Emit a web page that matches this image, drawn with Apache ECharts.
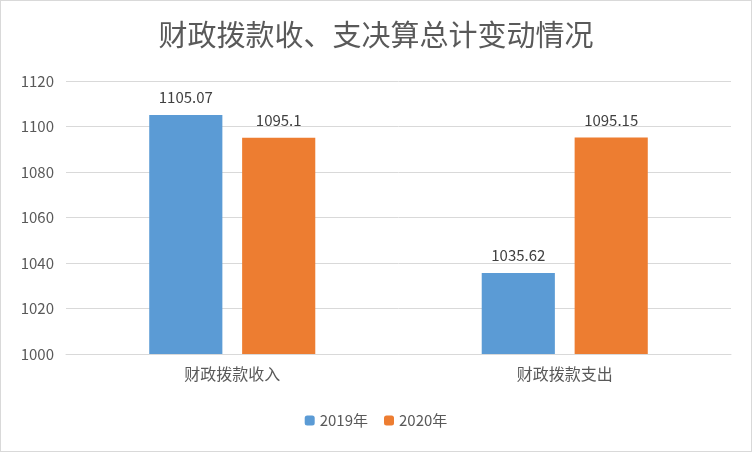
<!DOCTYPE html>
<html><head><meta charset="utf-8">
<script src="https://cdn.jsdelivr.net/npm/echarts@6/dist/echarts.min.js"></script>
<style>html,body{margin:0;padding:0;background:#fff}#c{width:750px;height:450px;border:1px solid #d9d9d9}</style>
</head><body><div id="c"></div>
<script>
const categories = ['财政拨款收入', '财政拨款支出'];
const series2019 = [1105.07, 1035.62];
const series2020 = [1095.1, 1095.15];
const yTicks = { min: 1000, max: 1120, interval: 20 };
const chart = echarts.init(document.getElementById('c'));
const font = '"Noto Sans CJK SC", sans-serif';
chart.setOption({
  animation: false,
  title: { text: '财政拨款收、支决算总计变动情况', left: 'center', top: 14,
    textStyle: { fontFamily: font, fontSize: 29, fontWeight: 'normal', color: '#595959' } },
  grid: { left: 65, right: 20, top: 80, bottom: 97 },
  legend: { bottom: 18, itemWidth: 10, itemHeight: 10, itemGap: 16,
    textStyle: { fontFamily: font, fontSize: 15, color: '#595959' },
    data: ['2019年', '2020年'] },
  xAxis: { type: 'category', data: categories,
    axisLine: { lineStyle: { color: '#d9d9d9' } }, axisTick: { show: false },
    axisLabel: { fontFamily: font, fontSize: 16, color: '#595959', margin: 12 } },
  yAxis: { type: 'value', min: yTicks.min, max: yTicks.max, interval: yTicks.interval,
    axisLine: { show: false }, axisTick: { show: false },
    splitLine: { lineStyle: { color: '#d9d9d9' } },
    axisLabel: { fontFamily: font, fontSize: 15, color: '#595959', margin: 12, formatter: v => String(v) } },
  series: [
    { name: '2019年', type: 'bar', data: series2019, barWidth: '22%', barGap: '27%',
      itemStyle: { color: '#5b9bd5' },
      label: { show: true, position: 'top', distance: 10, fontFamily: font, fontSize: 15, color: '#404040' } },
    { name: '2020年', type: 'bar', data: series2020, barWidth: '22%',
      itemStyle: { color: '#ed7d31' },
      label: { show: true, position: 'top', distance: 10, fontFamily: font, fontSize: 15, color: '#404040' } }
  ]
});
</script></body></html>
